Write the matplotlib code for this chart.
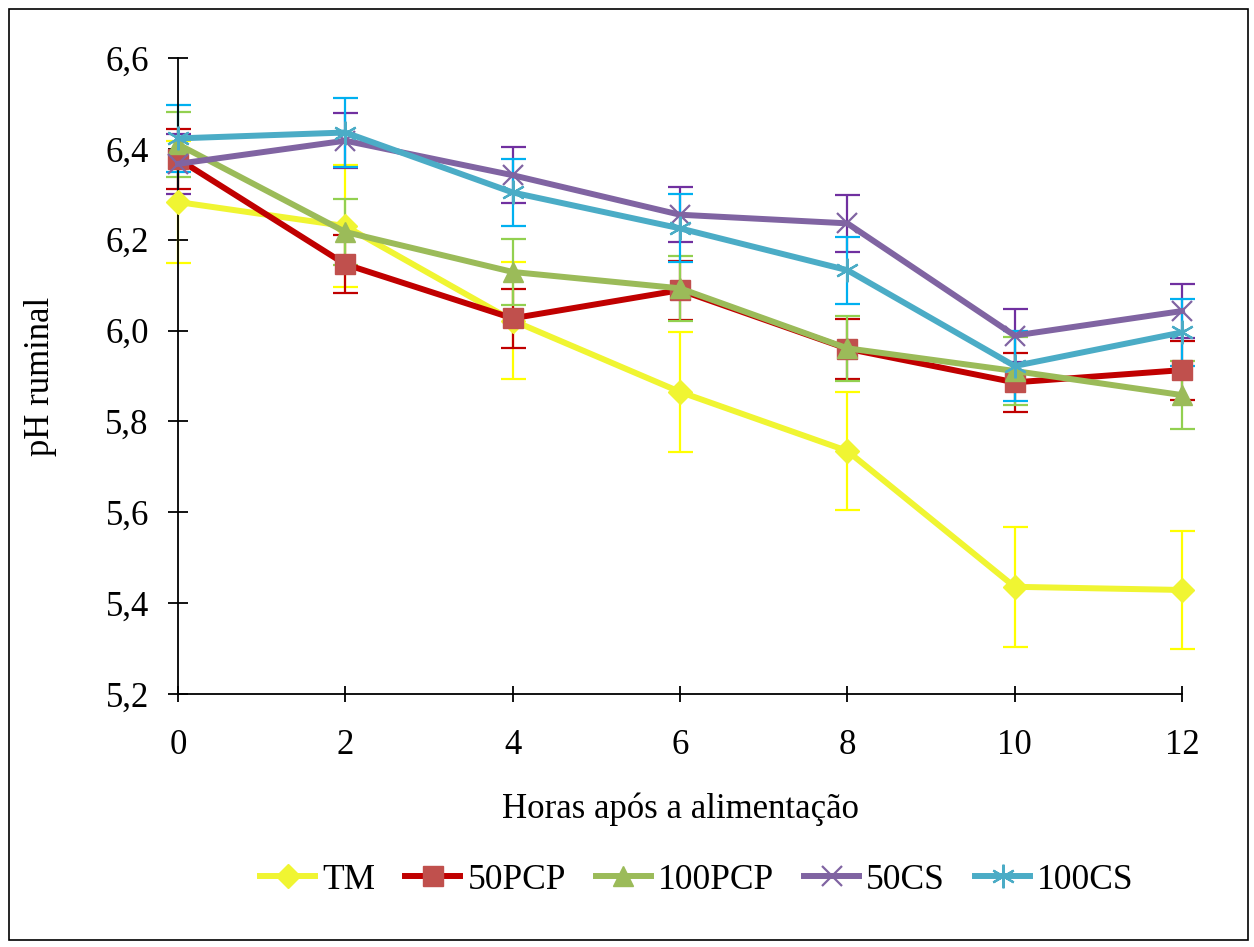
import matplotlib
matplotlib.use("Agg")
import matplotlib.pyplot as plt
from matplotlib.ticker import FuncFormatter, MultipleLocator
from matplotlib.patches import Rectangle

hours = [0, 2, 4, 6, 8, 10, 12]
series_names = ["TM", "50PCP", "100PCP", "50CS", "100CS"]
tm = [6.283, 6.230, 6.022, 5.865, 5.735, 5.436, 5.429]
tm_err = [0.134, 0.134, 0.128, 0.132, 0.130, 0.132, 0.130]
pcp50 = [6.378, 6.146, 6.027, 6.089, 5.960, 5.886, 5.913]
pcp50_err = [0.066, 0.064, 0.065, 0.065, 0.066, 0.065, 0.065]
pcp100 = [6.410, 6.217, 6.129, 6.093, 5.961, 5.911, 5.858]
pcp100_err = [0.072, 0.072, 0.072, 0.072, 0.071, 0.075, 0.075]
cs50 = [6.367, 6.418, 6.342, 6.255, 6.236, 5.989, 6.043]
cs50_err = [0.066, 0.060, 0.062, 0.060, 0.062, 0.058, 0.060]
cs100 = [6.423, 6.436, 6.304, 6.225, 6.133, 5.922, 5.996]
cs100_err = [0.073, 0.077, 0.074, 0.075, 0.074, 0.078, 0.073]

values = [tm, pcp50, pcp100, cs50, cs100]
errors = [tm_err, pcp50_err, pcp100_err, cs50_err, cs100_err]
line_colors = ["#F0F532", "#C00000", "#9BBB59", "#8064A2", "#4BACC6"]
marker_colors = ["#F0F532", "#C0504D", "#9BBB59", "#8064A2", "#4BACC6"]
err_colors = ["#FFFF00", "#C00000", "#92D050", "#7030A0", "#00B0F0"]
markers = ["D", "s", "^", "x", (6, 2, 0)]
msizes = [12, 15, 15, 15, 17]

plt.rcParams['font.family'] = ['Liberation Serif', 'DejaVu Serif']

fig = plt.figure(figsize=(12.54, 9.47), dpi=100)
ax = fig.add_axes([178/1254, 1-694/947, (1182-178)/1254, (694-58)/947])

for i, (name, v, e) in enumerate(zip(series_names, values, errors)):
    eb = ax.errorbar(hours, v, yerr=e, fmt='none', ecolor=err_colors[i],
                     elinewidth=1.6, capsize=9, capthick=1.6, zorder=2 + i * 0.01)
    for art in eb.lines[1] + eb.lines[2]:
        art.set_clip_on(False)
for i, (name, v) in enumerate(zip(series_names, values)):
    mk = markers[i]
    if mk == "x" or isinstance(mk, tuple):
        kw = dict(markeredgecolor=marker_colors[i], markeredgewidth=1.6)
    else:
        kw = dict(markerfacecolor=marker_colors[i], markeredgecolor=marker_colors[i])
    ax.plot(hours, v, color=line_colors[i], lw=4.3, marker=mk, markersize=msizes[i],
            label=name, zorder=3 + i * 0.1, clip_on=False, **kw)

ax.set_xlim(0, 12)
ax.set_ylim(5.2, 6.6)
ax.xaxis.set_major_locator(MultipleLocator(2))
ax.yaxis.set_major_locator(MultipleLocator(0.2))
ax.yaxis.set_major_formatter(FuncFormatter(lambda v, p: f"{v:.1f}".replace(".", ",")))
ax.xaxis.set_major_formatter(FuncFormatter(lambda v, p: f"{int(round(v))}"))
ax.spines['top'].set_visible(False)
ax.spines['right'].set_visible(False)
ax.spines['left'].set_linewidth(1.3)
ax.spines['bottom'].set_linewidth(1.3)
ax.tick_params(axis='both', direction='inout', width=1.3, labelsize=25)
ax.tick_params(axis='y', length=14, pad=14)
ax.tick_params(axis='x', length=12, pad=19)
ax.set_ylabel("pH ruminal", fontsize=25)
ax.yaxis.set_label_coords((57 - 178) / 1004, 0.5)
ax.set_xlabel("Horas após a alimentação", fontsize=25)
ax.xaxis.set_label_coords(0.5, (694 - 792) / 636)

leg = ax.legend(loc='center', bbox_to_anchor=(697/1254, 1-880/947), bbox_transform=fig.transFigure,
                ncol=5, frameon=False, fontsize=25.5, handlelength=1.55, columnspacing=0.85,
                handletextpad=0.2)

fig.patches.append(Rectangle((9/1254, 1-940/947), 1239/1254, 931/947, transform=fig.transFigure,
                             fill=False, edgecolor='black', lw=1.2))

fig.savefig("out.png", dpi=100)
